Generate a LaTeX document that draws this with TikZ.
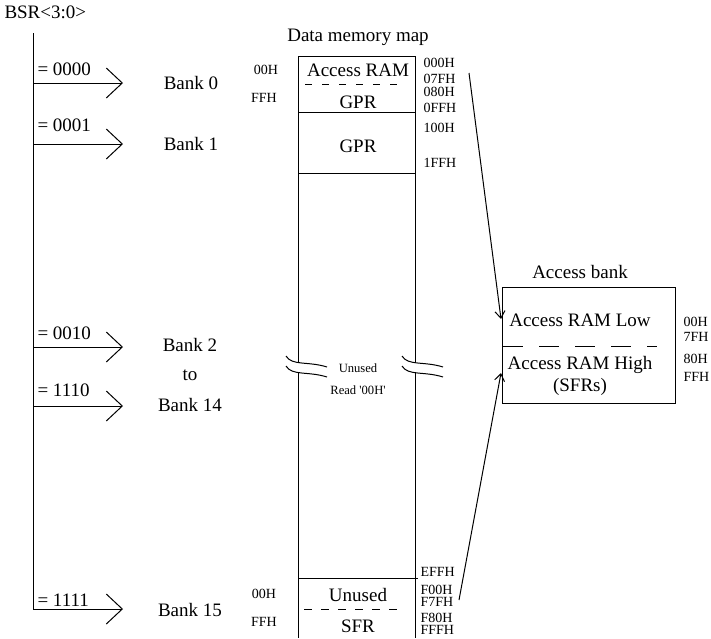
\documentclass[tikz,border=0pt]{standalone}
\usepackage{fontspec}
\setmainfont{Liberation Serif}
\usetikzlibrary{arrows.meta}

\begin{document}
\begin{tikzpicture}[x=0.5pt,y=-0.5pt,line width=0.5pt]
    \tikzstyle{txt} = [inner sep=0pt, font=\fontsize{9.5}{11}\selectfont]
    \tikzstyle{addr} = [inner sep=0pt, font=\fontsize{7}{8}\selectfont]
    \tikzstyle{note} = [inner sep=0pt, font=\fontsize{6.3}{7}\selectfont]
    \tikzstyle{sel} = [-{Straight Barb[length=8pt,width=15pt]}]
    \tikzstyle{feed} = [-{Straight Barb[length=3.5pt,width=5pt]}]

    \useasboundingbox (0,0) rectangle (711,638);

    % bank select
    \node [txt, anchor=west] (bsr) at (4,12) {BSR<3:0>};
    \coordinate (bustop) at (33,33);
    \coordinate (busend) at (33,609);
    \draw (bustop) -- (busend);
    \foreach \y/\code/\ly in {83/0000/69, 144/0001/125, 347/0010/333, 406/1110/390, 609/1111/600} {
      \coordinate (bus\code) at (33,\y);
      \coordinate (tip\code) at (123,\y);
      \draw [sel] (bus\code) -- (tip\code);
      \node [txt, anchor=west] (code\code) at (37,\ly) {= \code};
    }
    \node [txt] (bank0) at (191,83) {Bank 0};
    \node [txt] (bank1) at (191,144) {Bank 1};
    \node [txt] (bank2) at (190,345) {Bank 2};
    \node [txt] (bankto) at (190,375) {to};
    \node [txt] (bank14) at (190,405) {Bank 14};
    \node [txt] (bank15) at (190,610) {Bank 15};

    % data memory map
    \node [txt] (maptitle) at (358,37) {Data memory map};
    \draw (298,362) -- (298,56) -- (415,56) -- (415,362);
    \draw (298,372) -- (298,638);
    \draw (415,372) -- (415,638);
    \draw (298,112) -- (415,112);
    \draw (298,173) -- (415,173);
    \draw (298,578) -- (418,578);
    \draw [dash pattern=on 3.5pt off 5pt] (305,84) -- (403,84);
    \draw [dash pattern=on 4pt off 4.5pt] (304,609) -- (397,609);
    \foreach \dx in {0,116} {
      \draw (286+\dx,356) .. controls (292+\dx,366) and (308+\dx,361) .. (327+\dx,367);
      \draw (286+\dx,366) .. controls (292+\dx,376) and (308+\dx,371) .. (327+\dx,377);
    }
    \node [txt] (accram) at (358,70) {Access RAM};
    \node [txt] (gpr0) at (358,102) {GPR};
    \node [txt] (gpr1) at (358,146) {GPR};
    \node [note] (unused) at (358,368) {Unused};
    \node [note] (readzero) at (358,390) {Read \textquotesingle 00H\textquotesingle};
    \node [txt] (unusedf) at (358,595) {Unused};
    \node [txt] (sfr) at (358,626) {SFR};

    \node [addr] (lo0) at (266,70) {00H};
    \node [addr] (hi0) at (264,98) {FFH};
    \node [addr] (lo15) at (264,594) {00H};
    \node [addr] (hi15) at (264,622) {FFH};
    \foreach \y/\a in {63/000H, 79/07FH, 92/080H, 108/0FFH, 128/100H, 163/1FFH}
      \node [addr, anchor=west] (m\a) at (423,\y) {\a};
    \foreach \y/\a in {572/EFFH, 590/F00H, 602/F7FH, 618/F80H, 630/FFFH}
      \node [addr, anchor=west] (m\a) at (420,\y) {\a};

    % access bank
    \node [txt] (banktitle) at (580,272) {Access bank};
    \node [draw, inner sep=0pt, minimum width=86.5pt, minimum height=58pt] (accbank) at (588.5,345) {};
    \draw [dash pattern=on 10pt off 8pt] (503,346) -- (657,346);
    \node [txt] (acclow) at (580,320) {Access RAM Low};
    \node [txt] (acchigh) at (580,365) {Access RAM High};
    \node [txt] (sfrs) at (580,387) {(SFRs)};
    \foreach \y/\a in {322/00H, 337/7FH, 359/80H, 377/FFH}
      \node [addr, anchor=west] (b\a) at (683,\y) {\a};

    \coordinate (lowout) at (469,73);
    \coordinate (lowin) at (501,319);
    \coordinate (highout) at (459,600);
    \coordinate (highin) at (501,373);
    \draw [feed] (lowout) -- (lowin);
    \draw [feed] (highout) -- (highin);
\end{tikzpicture}
\end{document}
